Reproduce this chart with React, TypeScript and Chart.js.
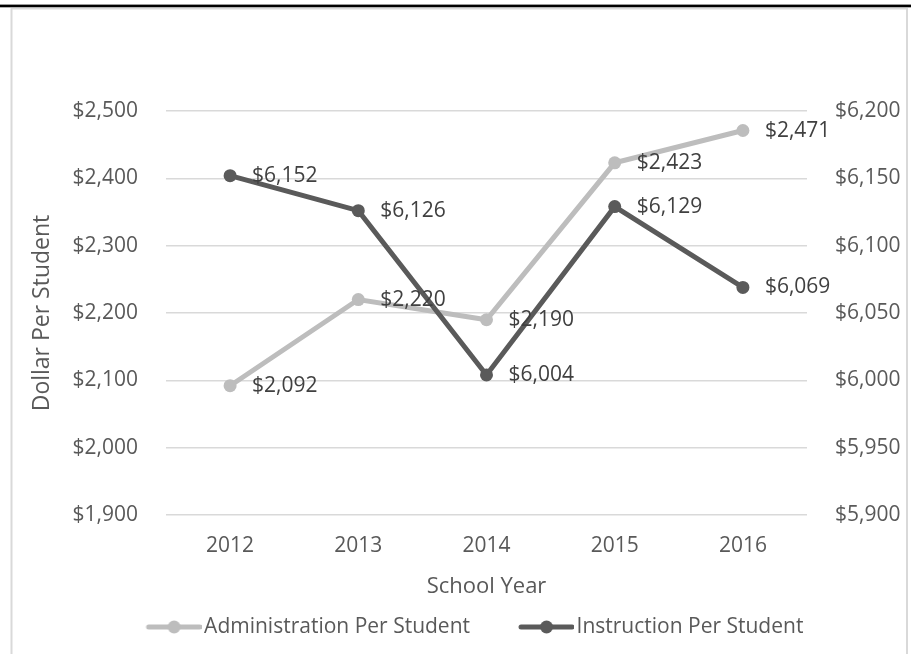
import React, { useEffect, useRef } from "react";
import { Chart, registerables } from "chart.js";

Chart.register(...registerables);

const years = ["2012", "2013", "2014", "2015", "2016"];
const adminPerStudent = [2092, 2220, 2190, 2423, 2471];
const instructionPerStudent = [6152, 6126, 6004, 6129, 6069];
const leftTickRange = [1900, 2500, 100];
const rightTickRange = [5900, 6200, 50];
const seriesNames = ["Administration Per Student", "Instruction Per Student"];

const FONT = "'Open Sans', 'Noto Sans', sans-serif";
const FS = 21;
const ADMIN_COLOR = "#BDBDBD";
const INSTR_COLOR = "#5A5A5A";
const TEXT_COLOR = "#595959";
const LABEL_COLOR = "#404040";

const fmt = (v: number) => "$" + Math.round(v).toLocaleString("en-US");

function legendImage(color: string): HTMLCanvasElement {
  const c = document.createElement("canvas");
  c.width = 102;
  c.height = 16;
  const ctx = c.getContext("2d")!;
  ctx.strokeStyle = color;
  ctx.fillStyle = color;
  ctx.lineWidth = 5;
  ctx.lineCap = "round";
  ctx.beginPath();
  ctx.moveTo(49, 8);
  ctx.lineTo(100, 8);
  ctx.stroke();
  ctx.beginPath();
  ctx.arc(74.5, 8, 6.5, 0, Math.PI * 2);
  ctx.fill();
  return c;
}

const framePlugin = {
  id: "frame",
  beforeDraw(chart: any) {
    const ctx = chart.ctx as CanvasRenderingContext2D;
    ctx.save();
    ctx.fillStyle = "#ffffff";
    ctx.fillRect(0, 0, chart.width, chart.height);
    ctx.fillStyle = "#9a9a9a";
    ctx.fillRect(0, 4, chart.width, 1);
    ctx.fillStyle = "#000000";
    ctx.fillRect(0, 5, chart.width, 2);
    ctx.fillStyle = "#b0b0b0";
    ctx.fillRect(0, 7, chart.width, 1);
    ctx.fillStyle = "#d9d9d9";
    ctx.fillRect(11, 8, 897, 1.5);
    ctx.fillRect(10.5, 8, 2, chart.height - 8);
    ctx.fillRect(906, 8, 2, chart.height - 8);
    ctx.restore();
  },
};

const valueLabelPlugin = {
  id: "valueLabels",
  afterDatasetsDraw(chart: any) {
    const ctx = chart.ctx as CanvasRenderingContext2D;
    ctx.save();
    ctx.font = `${FS}px ${FONT}`;
    ctx.fillStyle = LABEL_COLOR;
    ctx.textAlign = "left";
    ctx.textBaseline = "middle";
    chart.data.datasets.forEach((ds: any, i: number) => {
      const meta = chart.getDatasetMeta(i);
      meta.data.forEach((pt: any, j: number) => {
        ctx.fillText(fmt(ds.data[j]), pt.x + 22, pt.y);
      });
    });
    ctx.restore();
  },
};

export default function App() {
  const ref = useRef<HTMLCanvasElement>(null);

  useEffect(() => {
    const canvas = ref.current!;
    const adminImg = legendImage(ADMIN_COLOR);
    const instrImg = legendImage(INSTR_COLOR);

    const chart = new Chart(canvas, {
      type: "line",
      data: {
        labels: years,
        datasets: [
          {
            label: seriesNames[0],
            data: adminPerStudent,
            yAxisID: "y",
            borderColor: ADMIN_COLOR,
            backgroundColor: ADMIN_COLOR,
            borderWidth: 5,
            pointRadius: 6.5,
            pointBorderWidth: 0,
            pointBackgroundColor: ADMIN_COLOR,
            tension: 0,
            order: 1,
          },
          {
            label: seriesNames[1],
            data: instructionPerStudent,
            yAxisID: "y1",
            borderColor: INSTR_COLOR,
            backgroundColor: INSTR_COLOR,
            borderWidth: 5,
            pointRadius: 6.5,
            pointBorderWidth: 0,
            pointBackgroundColor: INSTR_COLOR,
            tension: 0,
            order: 0,
          },
        ],
      },
      options: {
        responsive: false,
        animation: false,
        devicePixelRatio: 1,
        layout: { padding: { top: 111, bottom: 6.5, left: 0, right: 0 } },
        plugins: {
          tooltip: { enabled: false },
          legend: {
            position: "bottom",
            labels: {
              usePointStyle: true,
              pointStyleWidth: 86,
              padding: 10,
              color: TEXT_COLOR,
              font: { family: FONT, size: FS },
              generateLabels: () => [
                {
                  text: seriesNames[0],
                  fillStyle: ADMIN_COLOR,
                  strokeStyle: ADMIN_COLOR,
                  lineWidth: 0,
                  pointStyle: adminImg as any,
                  hidden: false,
                  datasetIndex: 0,
                  fontColor: TEXT_COLOR,
                },
                {
                  text: seriesNames[1],
                  fillStyle: INSTR_COLOR,
                  strokeStyle: INSTR_COLOR,
                  lineWidth: 0,
                  pointStyle: instrImg as any,
                  hidden: false,
                  datasetIndex: 1,
                  fontColor: TEXT_COLOR,
                },
              ],
            },
          },
        },
        scales: {
          x: {
            offset: true,
            grid: { display: false, drawTicks: false, offset: true },
            border: { display: false },
            ticks: { color: TEXT_COLOR, font: { family: FONT, size: FS }, padding: 18 },
            title: {
              display: true,
              text: "School Year",
              color: TEXT_COLOR,
              font: { family: FONT, size: 22 },
              padding: { top: 0, bottom: 6.5 },
            },
            afterFit: (s: any) => {
              s.height = 91.5;
            },
          },
          y: {
            position: "left",
            min: leftTickRange[0],
            max: leftTickRange[1],
            grid: { color: "#d9d9d9", lineWidth: 1.5, drawTicks: false },
            border: { display: false },
            ticks: {
              stepSize: leftTickRange[2],
              padding: 28,
              color: TEXT_COLOR,
              font: { family: FONT, size: FS },
              callback: (v: any) => fmt(Number(v)),
            },
            title: {
              display: true,
              text: "Dollar Per Student",
              color: TEXT_COLOR,
              font: { family: FONT, size: 23 },
              padding: { top: 29, bottom: 0 },
            },
            afterFit: (s: any) => {
              s.width = 166;
            },
          },
          y1: {
            position: "right",
            min: rightTickRange[0],
            max: rightTickRange[1],
            grid: { display: false, drawTicks: false },
            border: { display: false },
            ticks: {
              stepSize: rightTickRange[2],
              padding: 28,
              color: TEXT_COLOR,
              font: { family: FONT, size: FS },
              callback: (v: any) => fmt(Number(v)),
            },
            afterFit: (s: any) => {
              s.width = 104;
            },
          },
        },
      },
      plugins: [framePlugin, valueLabelPlugin],
    } as any);

    return () => chart.destroy();
  }, []);

  return (
    <div style={{ position: "fixed", left: 0, top: 0, width: 911, height: 654, background: "#fff" }}>
      <canvas ref={ref} width={911} height={654} style={{ display: "block", width: 911, height: 654 }} />
    </div>
  );
}
